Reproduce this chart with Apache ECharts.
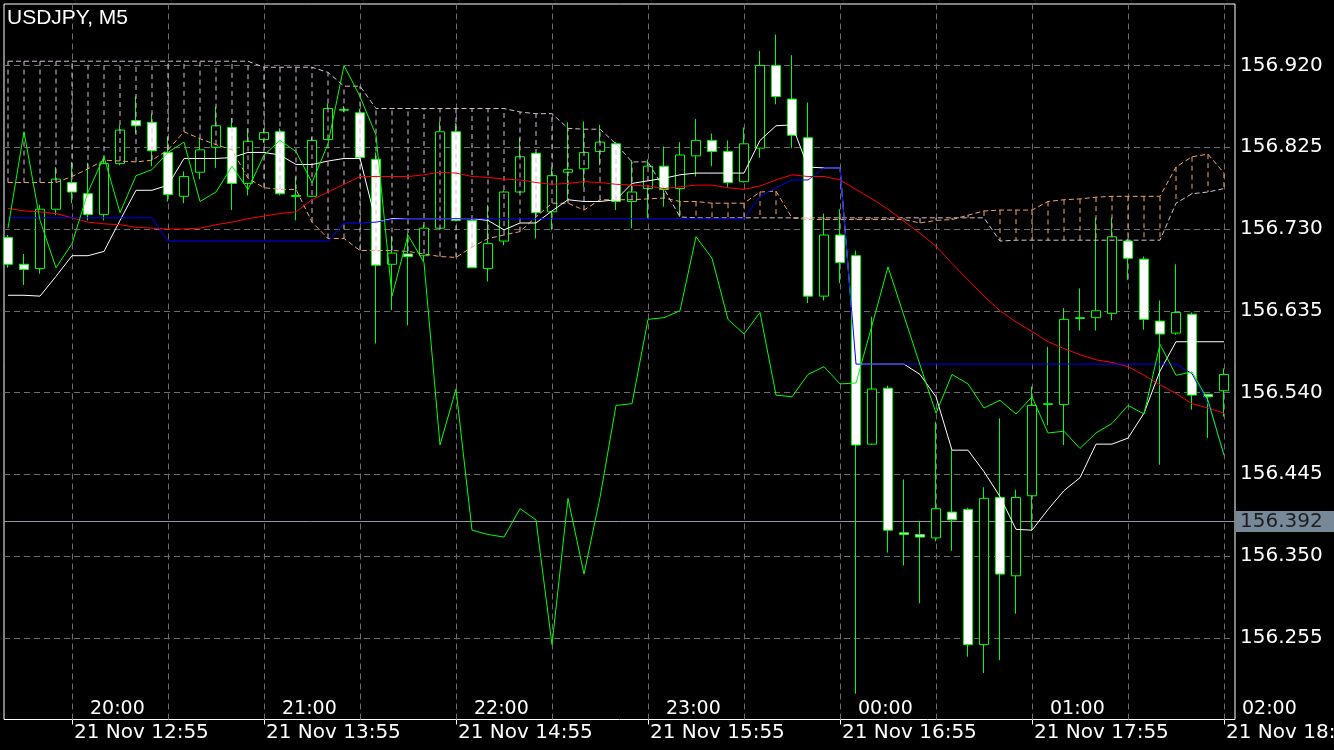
<!DOCTYPE html>
<html>
<head>
<meta charset="utf-8">
<script src="https://cdn.jsdelivr.net/npm/echarts/dist/echarts.min.js"></script>
<style>
html,body{margin:0;padding:0;background:#000;}
#main{width:1334px;height:750px;}
</style>
</head>
<body>
<div id="main"></div>
<script>
// ---- categories (server time, M5 bars) ----
const times = ['12:35','12:40','12:45','12:50','12:55','13:00','13:05','13:10','13:15','13:20','13:25','13:30','13:35','13:40','13:45','13:50','13:55','14:00','14:05','14:10','14:15','14:20','14:25','14:30','14:35','14:40','14:45','14:50','14:55','15:00','15:05','15:10','15:15','15:20','15:25','15:30','15:35','15:40','15:45','15:50','15:55','16:00','16:05','16:10','16:15','16:20','16:25','16:30','16:35','16:40','16:45','16:50','16:55','17:00','17:05','17:10','17:15','17:20','17:25','17:30','17:35','17:40','17:45','17:50','17:55','18:00','18:05','18:10','18:15','18:20','18:25','18:30','18:35','18:40','18:45','18:50','18:55','19:00'];

// ---- tick labels ----
const dateTicks = ['12:55','13:55','14:55','15:55','16:55','17:55','18:55'];
const datePrefix = '21 Nov ';
const localTickAt = ['13:00','14:00','15:00','16:00','17:00','18:00','19:00'];
const localTickLabels = ['20:00','21:00','22:00','23:00','00:00','01:00','02:00'];
const vGridTimes = ['12:55','13:25','13:55','14:25','14:55','15:25','15:55','16:25','16:55','17:25','17:55','18:25','18:55'];
const priceMin = 156.160, priceStep = 0.095;
const bidPrice = 156.392;
const title = 'USDJPY, M5';

// ---- OHLC ----
const opens = [156.720,156.689,156.684,156.753,156.784,156.771,156.747,156.806,156.856,156.854,
156.819,156.768,156.796,156.825,156.848,156.783,156.834,156.843,156.769,156.768,
156.834,156.868,156.865,156.811,156.689,156.701,156.699,156.731,156.843,156.740,
156.684,156.716,156.773,156.818,156.750,156.796,156.800,156.820,156.829,156.762,
156.777,156.803,156.777,156.815,156.833,156.820,156.785,156.824,156.920,156.881,
156.836,156.652,156.723,156.699,156.480,156.545,156.377,156.375,156.371,156.401,
156.404,156.247,156.418,156.327,156.420,156.526,156.526,156.626,156.627,156.632,
156.716,156.695,156.623,156.609,156.631,156.538,156.542];
const closes = [156.689,156.683,156.753,156.788,156.773,156.747,156.806,156.845,156.850,156.821,
156.770,156.791,156.822,156.850,156.783,156.832,156.842,156.771,156.768,156.833,
156.870,156.869,156.813,156.688,156.702,156.698,156.731,156.843,156.740,156.685,
156.713,156.773,156.814,156.749,156.792,156.799,156.819,156.831,156.762,156.773,
156.803,156.776,156.816,156.833,156.820,156.784,156.829,156.920,156.884,156.839,
156.652,156.723,156.691,156.479,156.544,156.380,156.375,156.372,156.405,156.392,
156.247,156.417,156.329,156.418,156.525,156.527,156.625,156.627,156.635,156.721,
156.696,156.625,156.608,156.633,156.537,156.535,156.561];
const lows = [156.685,156.665,156.678,156.746,156.760,156.740,156.740,156.804,156.841,156.803,
156.762,156.760,156.788,156.801,156.752,156.769,156.830,156.769,156.740,156.767,
156.833,156.866,156.812,156.597,156.636,156.618,156.692,156.731,156.740,156.685,
156.669,156.711,156.772,156.719,156.729,156.764,156.779,156.804,156.752,156.731,
156.742,156.756,156.744,156.791,156.803,156.779,156.784,156.813,156.875,156.824,
156.644,156.647,156.667,156.190,156.479,156.354,156.339,156.295,156.367,156.356,
156.233,156.214,156.229,156.283,156.380,156.502,156.479,156.612,156.612,156.624,
156.671,156.613,156.456,156.607,156.520,156.487,156.512];
const highs = [156.723,156.701,156.758,156.802,156.808,156.807,156.814,156.851,156.884,156.864,
156.837,156.797,156.835,156.872,156.859,156.847,156.847,156.847,156.791,156.837,
156.876,156.873,156.870,156.819,156.722,156.725,156.735,156.855,156.853,156.742,
156.758,156.775,156.836,156.819,156.802,156.854,156.855,156.851,156.831,156.810,
156.811,156.826,156.831,156.858,156.841,156.833,156.848,156.937,156.956,156.932,
156.877,156.748,156.753,156.705,156.628,156.548,156.439,156.390,156.506,156.473,
156.406,156.430,156.510,156.427,156.547,156.593,156.638,156.661,156.743,156.743,
156.719,156.698,156.647,156.689,156.633,156.538,156.568];

// ---- indicator lines ----
const tenkan = [156.653,156.653,156.652,156.675,156.699,156.699,156.704,156.740,156.775,156.775,
156.781,156.812,156.812,156.812,156.813,156.819,156.819,156.816,156.805,156.805,
156.809,156.812,156.812,156.738,156.742,156.742,156.742,156.742,156.742,156.742,
156.740,156.729,156.737,156.737,156.751,156.764,156.762,156.762,156.764,156.783,
156.786,156.789,156.793,156.795,156.795,156.795,156.795,156.833,156.850,156.851,
156.802,156.801,156.801,156.573,156.573,156.573,156.573,156.561,156.535,156.473,
156.473,156.448,156.419,156.381,156.380,156.404,156.426,156.441,156.480,156.480,
156.487,156.516,156.565,156.599,156.599,156.599,156.599];
const kijun = [156.743,156.743,156.743,156.743,156.743,156.743,156.743,156.743,156.743,156.743,
156.716,156.716,156.716,156.716,156.716,156.716,156.716,156.716,156.716,156.716,
156.716,156.737,156.737,156.738,156.741,156.742,156.742,156.742,156.742,156.742,
156.742,156.742,156.742,156.742,156.742,156.742,156.742,156.742,156.742,156.742,
156.742,156.742,156.742,156.742,156.742,156.742,156.742,156.768,156.778,156.787,
156.787,156.801,156.801,156.573,156.573,156.573,156.573,156.573,156.573,156.573,
156.573,156.573,156.573,156.573,156.573,156.573,156.573,156.573,156.573,156.573,
156.573,156.573,156.573,156.573,156.562,156.527,156.469];
const redMA = [156.754,156.751,156.750,156.748,156.743,156.738,156.736,156.735,156.732,156.731,
156.730,156.730,156.731,156.735,156.738,156.742,156.745,156.748,156.750,156.764,
156.773,156.782,156.791,156.791,156.791,156.791,156.793,156.796,156.795,156.791,
156.790,156.788,156.787,156.784,156.782,156.783,156.785,156.784,156.782,156.781,
156.780,156.777,156.779,156.781,156.781,156.778,156.776,156.780,156.787,156.793,
156.791,156.791,156.787,156.776,156.765,156.753,156.739,156.725,156.710,156.690,
156.671,156.652,156.635,156.622,156.611,156.599,156.591,156.584,156.578,156.575,
156.570,156.560,156.549,156.539,156.527,156.522,156.516];
const chikou = [156.731,156.843,156.740,156.685,156.713,156.773,156.814,156.749,156.792,156.799,
156.819,156.831,156.762,156.773,156.803,156.776,156.816,156.833,156.820,156.784,
156.829,156.920,156.884,156.839,156.652,156.723,156.691,156.479,156.544,156.380,
156.375,156.372,156.405,156.392,156.247,156.417,156.329,156.418,156.525,156.527,
156.625,156.627,156.635,156.721,156.696,156.625,156.608,156.633,156.537,156.535,
156.561,156.570,156.550,156.551,156.618,156.686,156.629,156.572,156.516,156.561,
156.550,156.522,156.531,156.515,156.535,156.493,156.495,156.475,156.493,156.504,
156.525,156.515,156.596,156.560,156.564,156.531,156.467];
const spanA = [156.784,156.784,156.784,156.784,156.791,156.800,156.810,156.809,156.808,156.810,
156.822,156.843,156.835,156.828,156.822,156.789,156.778,156.776,156.776,156.738,
156.719,156.719,156.705,156.705,156.705,156.704,156.701,156.698,156.697,156.709,
156.719,156.723,156.727,156.744,156.760,156.760,156.752,156.764,156.764,156.764,
156.765,156.766,156.762,156.762,156.760,156.760,156.760,156.773,156.774,156.743,
156.741,156.741,156.741,156.741,156.741,156.741,156.741,156.737,156.740,156.741,
156.746,156.751,156.752,156.752,156.752,156.762,156.764,156.765,156.767,156.768,
156.768,156.768,156.768,156.802,156.814,156.817,156.795];
const spanB = [156.925,156.925,156.925,156.925,156.925,156.925,156.925,156.925,156.925,156.925,
156.925,156.925,156.925,156.925,156.925,156.925,156.918,156.918,156.918,156.918,
156.912,156.896,156.896,156.870,156.870,156.870,156.870,156.870,156.870,156.870,
156.870,156.870,156.866,156.864,156.864,156.847,156.846,156.846,156.829,156.808,
156.808,156.777,156.744,156.743,156.743,156.743,156.743,156.743,156.743,156.743,
156.743,156.743,156.743,156.743,156.743,156.743,156.743,156.743,156.743,156.743,
156.743,156.743,156.716,156.717,156.717,156.717,156.717,156.717,156.717,156.717,
156.717,156.717,156.717,156.760,156.771,156.773,156.777];

// ---- build ----
const N = opens.length;
const candleData = [];
for (let i = 0; i < N; i++) candleData.push([opens[i], closes[i], lows[i], highs[i]]);
const cloudData = [];
for (let i = 0; i < N; i++) cloudData.push([i, spanA[i], spanB[i]]);

const priceMax = priceMin + 715.5 / 860.5;
const FONT = 'DejaVu Sans';

const chart = echarts.init(document.getElementById('main'), null, {renderer: 'canvas'});
const lineSeries = (name, data, color, dashed, z) => ({
  name, type: 'line', xAxisIndex: 1, yAxisIndex: 1, data,
  showSymbol: false, symbol: 'none', silent: true, z: z,
  lineStyle: {color, width: 1, type: dashed ? [5, 3] : 'solid'},
  animation: false
});

chart.setOption({
  backgroundColor: '#000',
  animation: false,
  title: {
    text: title, left: 7, top: 8, padding: 0,
    textStyle: {color: '#fff', fontSize: 21, fontWeight: 'normal', fontFamily: 'Liberation Sans'}
  },
  grid: [
    {left: 4, top: 4, width: 1231, height: 715.5, show: true, borderColor: '#ffffff', borderWidth: 1,
      backgroundColor: '#000', containLabel: false, outerBoundsMode: 'none'},
    {left: 0, top: 4, width: times.length * 16, height: 715.5, show: false, containLabel: false, outerBoundsMode: 'none'}
  ],
  xAxis: [
    {type: 'value', gridIndex: 0, min: 0, max: 1, show: false},
    {
      type: 'category', gridIndex: 1, data: times, boundaryGap: true, position: 'bottom',
      axisLine: {show: false},
      axisTick: {show: true, alignWithLabel: true, length: 5, lineStyle: {color: '#fff'},
        interval: (i, v) => dateTicks.indexOf(v) >= 0},
      axisLabel: {show: true, color: '#fff', fontSize: 20, fontFamily: FONT, align: 'left', margin: 3,
        padding: [0, 0, 0, 2], hideOverlap: false,
        interval: (i, v) => dateTicks.indexOf(v) >= 0,
        formatter: v => datePrefix + v},
      splitLine: {show: false}
    },
    {
      type: 'category', gridIndex: 1, data: times, boundaryGap: true, position: 'bottom',
      axisLine: {show: false}, axisTick: {show: false},
      axisLabel: {show: true, inside: true, color: '#fff', fontSize: 19, fontFamily: FONT, align: 'left', margin: 1,
        padding: [0, 0, 0, 2], hideOverlap: false,
        interval: (i, v) => localTickAt.indexOf(v) >= 0,
        formatter: v => localTickLabels[localTickAt.indexOf(v)]},
      splitLine: {show: false}
    }
  ],
  yAxis: [
    {
      type: 'value', gridIndex: 0, position: 'right', min: priceMin, max: priceMax, interval: priceStep,
      axisLine: {show: false}, axisTick: {show: false},
      axisLabel: {color: '#fff', fontSize: 20, fontFamily: FONT, margin: 5, showMinLabel: false, showMaxLabel: false,
        formatter: v => v.toFixed(3)},
      splitLine: {show: true, showMinLine: false, showMaxLine: false, lineStyle: {color: '#6c6c6c', type: [6, 4], width: 1}}
    },
    {type: 'value', gridIndex: 1, min: priceMin, max: priceMax, show: false}
  ],
  series: [
    {
      name: 'bid', type: 'line', xAxisIndex: 0, yAxisIndex: 0, data: [], silent: true,
      markLine: {
        silent: true, symbol: 'none', z: 1, animation: false,
        lineStyle: {color: '#8e9aa6', type: 'solid', width: 1},
        label: {show: true, position: 'end', distance: 1, formatter: bidPrice.toFixed(3),
          backgroundColor: '#778899', color: '#1e1e1e', fontSize: 20, fontFamily: FONT, padding: [1, 12, 0, 4]},
        data: [{yAxis: bidPrice}]
      }
    },
    {
      name: 'USDJPY', type: 'candlestick', xAxisIndex: 1, yAxisIndex: 1, data: candleData,
      barWidth: 9, silent: true, z: 2,
      itemStyle: {color: '#000000', color0: '#ffffff', borderColor: '#00ff00', borderColor0: '#00ff00',
        borderColorDoji: '#00ff00', borderWidth: 1},
      markLine: {
        silent: true, symbol: 'none', z: 1, animation: false, label: {show: false},
        lineStyle: {color: '#6c6c6c', type: [6, 4], width: 1},
        data: vGridTimes.map(t => ({xAxis: t}))
      }
    },
    {
      name: 'kumo', type: 'custom', xAxisIndex: 1, yAxisIndex: 1, data: cloudData, silent: true, z: 3,
      encode: {x: 0, y: [1, 2]},
      renderItem: (params, api) => {
        const x = api.value(0), a = api.value(1), b = api.value(2);
        const pa = api.coord([x, a]), pb = api.coord([x, b]);
        return {type: 'line', shape: {x1: pa[0], y1: pa[1], x2: pb[0], y2: pb[1]},
          style: {stroke: a > b ? '#F4A460' : '#D8BFD8', lineWidth: 1, lineDash: [5, 4]}};
      }
    },
    lineSeries('Senkou A', spanA, '#F4A460', true, 3),
    lineSeries('Senkou B', spanB, '#D8BFD8', true, 3),
    lineSeries('Tenkan', tenkan, '#ffffff', false, 4),
    lineSeries('MA', redMA, '#ff0000', false, 4),
    lineSeries('Kijun', kijun, '#0000ff', false, 4),
    lineSeries('Chikou', chikou, '#00ff00', false, 4)
  ]
});
</script>
</body>
</html>
